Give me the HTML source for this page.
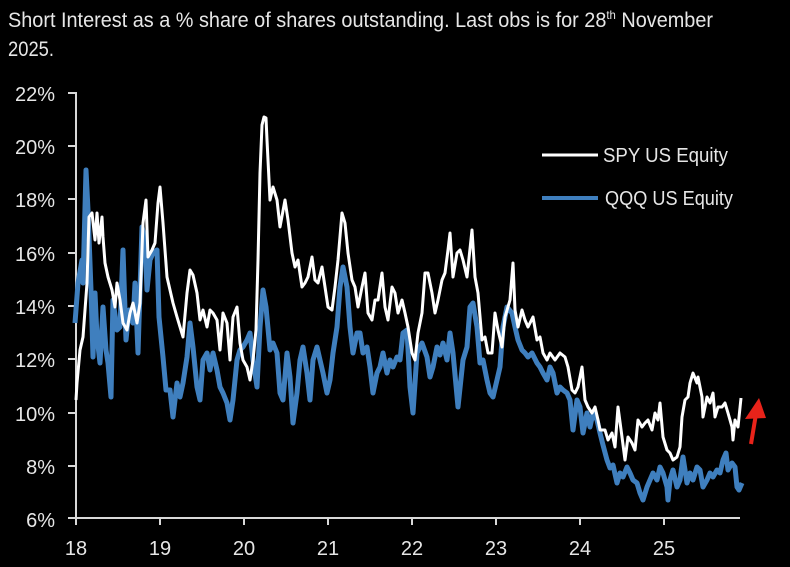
<!DOCTYPE html>
<html><head><meta charset="utf-8"><style>
html,body{margin:0;padding:0;background:#000;}
svg{display:block;}
text{font-family:"Liberation Sans",Arial,sans-serif;fill:#e6e6e6;}
</style></head><body>
<svg width="790" height="567" viewBox="0 0 790 567" xmlns="http://www.w3.org/2000/svg">
<rect width="790" height="567" fill="#000"/>
<text x="8" y="27" font-size="21" textLength="705" lengthAdjust="spacingAndGlyphs">Short Interest as a % share of shares outstanding. Last obs is for 28<tspan font-size="12" dy="-8">th</tspan><tspan dy="8"> November</tspan></text>
<text x="8" y="56" font-size="21" textLength="46" lengthAdjust="spacingAndGlyphs">2025.</text>

<g font-size="20" text-anchor="end">
<text x="55" y="101">22%</text>
<text x="55" y="154">20%</text>
<text x="55" y="207">18%</text>
<text x="55" y="261">16%</text>
<text x="55" y="314">14%</text>
<text x="55" y="367">12%</text>
<text x="55" y="421">10%</text>
<text x="55" y="474">8%</text>
<text x="55" y="527">6%</text>
</g>
<g font-size="20" text-anchor="middle">
<text x="76" y="555">18</text>
<text x="160" y="555">19</text>
<text x="244" y="555">20</text>
<text x="328" y="555">21</text>
<text x="412" y="555">22</text>
<text x="496" y="555">23</text>
<text x="580" y="555">24</text>
<text x="664" y="555">25</text>
</g>

<g stroke="#d9d9d9" stroke-width="2" fill="none">
<line x1="76" y1="92" x2="76" y2="519"/>
<line x1="75" y1="518" x2="740" y2="518"/>
<line x1="68" y1="93" x2="76" y2="93"/>
<line x1="68" y1="146" x2="76" y2="146"/>
<line x1="68" y1="199" x2="76" y2="199"/>
<line x1="68" y1="253" x2="76" y2="253"/>
<line x1="68" y1="306" x2="76" y2="306"/>
<line x1="68" y1="359" x2="76" y2="359"/>
<line x1="68" y1="413" x2="76" y2="413"/>
<line x1="68" y1="466" x2="76" y2="466"/>
<line x1="68" y1="518" x2="76" y2="518"/>
<line x1="76" y1="518" x2="76" y2="525"/>
<line x1="160" y1="518" x2="160" y2="525"/>
<line x1="244" y1="518" x2="244" y2="525"/>
<line x1="328" y1="518" x2="328" y2="525"/>
<line x1="412" y1="518" x2="412" y2="525"/>
<line x1="496" y1="518" x2="496" y2="525"/>
<line x1="580" y1="518" x2="580" y2="525"/>
<line x1="664" y1="518" x2="664" y2="525"/>
</g>

<polyline fill="none" stroke="#3f7fbe" stroke-width="5" stroke-linejoin="round" points="75,323 78,283 82,260 83,283 86,170 88,210 91,290 93,357 95,293 97,337 100,363 103,307 106,350 108,363 111,397 113,300 117,330 120,327 123,250 126,340 129,310 133,323 135,283 138,353 142,227 145,240 147,290 150,260 153,253 157,250 159,317 163,357 166,390 170,390 173,417 177,383 180,397 183,383 187,357 190,323 193,347 197,387 200,400 203,360 207,353 210,370 213,353 217,370 220,387 223,393 227,403 230,420 233,400 237,360 240,350 243,347 247,340 250,333 253,360 257,387 260,327 263,290 266,307 270,350 273,343 277,353 280,393 283,400 287,353 290,377 293,423 297,393 300,360 303,347 307,373 310,400 313,360 317,347 320,360 323,373 327,393 330,380 333,353 337,327 340,287 343,267 347,287 350,327 353,353 357,333 360,333 363,353 367,347 370,367 373,393 377,373 380,367 383,353 387,373 390,360 393,367 397,357 400,360 403,333 407,330 410,387 413,413 417,353 422,343 427,357 430,377 433,367 437,347 440,355 443,343 447,360 450,333 453,353 458,407 463,360 467,347 470,307 473,303 477,327 480,363 483,360 487,380 490,393 493,397 497,380 500,367 503,327 507,307 512,313 515,327 518,340 522,350 525,353 528,357 532,353 537,363 540,367 543,373 547,380 550,367 553,373 557,393 560,387 563,390 567,393 570,400 573,430 577,400 580,407 583,433 587,413 590,427 593,413 597,420 600,433 603,445 607,460 610,468 613,465 617,483 620,473 623,477 627,467 630,473 633,480 637,483 640,493 643,500 647,487 650,480 653,473 657,480 660,467 663,473 667,487 668,500 670,480 673,470 677,487 680,480 683,457 687,483 690,473 693,480 697,467 700,470 703,487 707,480 710,473 713,477 717,470 720,473 723,460 726,453 728,470 732,463 735,467 737,487 739,490 742,483"/>

<polyline fill="none" stroke="#ffffff" stroke-width="3" stroke-linejoin="round" points="76,400 77,383 80,350 83,337 87,283 89,217 92,213 95,240 97,213 99,243 102,217 103,237 105,263 108,277 112,290 115,307 117,283 120,300 123,323 127,330 130,313 133,303 137,323 140,303 143,223 146,200 148,257 152,250 155,243 158,203 160,187 163,223 167,277 170,290 173,303 177,317 180,327 183,337 187,293 190,270 193,275 197,293 200,320 203,310 207,327 210,310 213,313 217,320 220,350 223,313 227,323 230,360 233,317 237,307 240,343 243,360 247,367 250,380 253,360 256,330 258,260 260,173 262,125 264,117 266,118 267,140 270,200 273,187 277,200 280,227 285,200 288,220 292,253 295,267 298,260 302,287 305,283 308,277 312,257 315,280 318,283 322,267 325,287 328,307 332,310 335,287 338,260 342,213 345,223 348,253 352,280 355,287 358,307 362,287 365,273 368,313 372,320 375,300 378,300 382,273 385,307 388,320 392,287 395,293 398,313 402,300 405,313 408,327 412,353 415,360 418,333 422,313 425,273 428,273 432,293 435,313 438,300 442,280 445,273 448,250 450,233 453,277 457,253 460,250 463,260 467,277 472,230 475,277 478,293 482,340 485,337 488,353 492,353 495,313 498,330 502,347 505,317 510,300 513,263 515,310 518,327 522,310 525,320 528,327 533,317 537,340 540,337 543,353 547,360 550,353 555,360 560,353 565,357 568,367 572,390 575,393 578,387 582,367 585,400 588,407 592,413 595,407 598,420 600,430 605,430 608,440 612,433 615,447 618,407 622,437 625,460 628,437 632,443 635,450 638,420 642,427 645,423 648,420 652,430 655,413 658,420 660,403 663,437 667,450 670,453 673,460 677,457 680,447 682,417 685,400 688,397 690,383 693,373 697,383 698,377 702,397 703,417 707,397 710,403 713,393 715,417 718,407 722,407 725,403 728,413 732,427 733,440 735,420 738,427 741,398"/>

<line x1="542" y1="155" x2="598" y2="155" stroke="#ffffff" stroke-width="3"/>
<line x1="542" y1="198" x2="598" y2="198" stroke="#3f7fbe" stroke-width="4"/>
<text x="603" y="162" font-size="20" textLength="125" lengthAdjust="spacingAndGlyphs">SPY US Equity</text>
<text x="605" y="205" font-size="20" textLength="128" lengthAdjust="spacingAndGlyphs">QQQ US Equity</text>

<line x1="751" y1="444" x2="756" y2="414" stroke="#e8231a" stroke-width="4"/>
<polygon points="745,419 766,418 759,398" fill="#e8231a"/>
</svg>
</body></html>
